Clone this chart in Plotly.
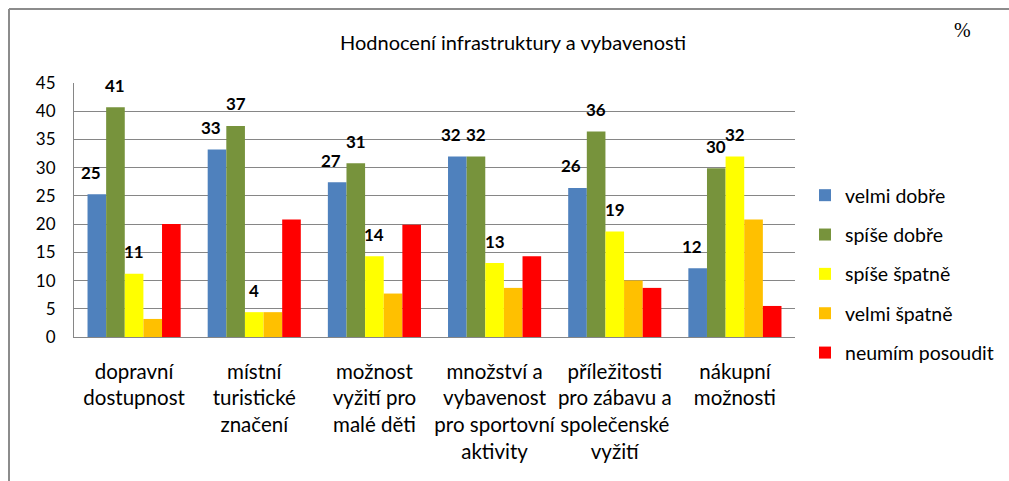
import plotly.graph_objects as go

categories = [
    "dopravní<br>dostupnost",
    "místní<br>turistické<br>značení",
    "možnost<br>vyžití pro<br>malé děti",
    "množství a<br>vybavenost<br>pro sportovní<br>aktivity",
    "příležitosti<br>pro zábavu a<br>společenské<br>vyžití",
    "nákupní<br>možnosti",
]
series_names = ["velmi dobře", "spíše dobře", "spíše špatně", "velmi špatně", "neumím posoudit"]
velmi_dobre = [25.3, 33.2, 27.4, 32.0, 26.4, 12.2]
spise_dobre = [40.7, 37.4, 30.8, 32.0, 36.4, 29.9]
spise_spatne = [11.2, 4.4, 14.3, 13.1, 18.7, 32.0]
velmi_spatne = [3.2, 4.4, 7.7, 8.7, 10.0, 20.8]
neumim = [20.0, 20.8, 19.9, 14.3, 8.7, 5.5]
series_values = [velmi_dobre, spise_dobre, spise_spatne, velmi_spatne, neumim]
labelled_series = [0, 1, 2]  # only these series carry data labels
colors = ["#4F81BD", "#77933C", "#FFFF00", "#FFC000", "#FF0000"]
y_ticks = [0, 5, 10, 15, 20, 25, 30, 35, 40, 45]

W, H = 1009, 481
ML, MR, MT, MB = 74, 214, 83, 144
plot_w = W - ML - MR
plot_h = H - MT - MB
bargap = 0.225
bar_w = plot_w / len(categories) * (1 - bargap) / len(series_names)
label_xshift = [-6, 0, 0, 0, 0]

FONT = "Lato"

fig = go.Figure()
for i, (name, vals) in enumerate(zip(series_names, series_values)):
    fig.add_trace(go.Bar(
        x=categories, y=vals, name=name,
        marker=dict(color=colors[i], line=dict(width=0)),
        legendgroup=name,
        hoverinfo="skip",
    ))

annotations = []
for i in labelled_series:
    for c, v in zip(categories, series_values[i]):
        annotations.append(dict(
            x=c, y=v, xref="x", yref="y", text=f"<b>{round(v)}</b>",
            showarrow=False, xanchor="center", yanchor="middle",
            xshift=(i - 2) * bar_w + label_xshift[i], yshift=22,
            font=dict(family=FONT, size=17, color="#000000"),
        ))

annotations.append(dict(
    x=(963 - ML) / plot_w, y=(H - MB - 30) / plot_h, xref="paper", yref="paper",
    text="%", showarrow=False, xanchor="center", yanchor="middle",
    font=dict(family="Liberation Serif", size=20, color="#000000"),
))

shapes = [
    dict(type="line", xref="paper", yref="paper",
         x0=(9 - ML) / plot_w, x1=(W - ML) / plot_w,
         y0=(H - MB - 9) / plot_h, y1=(H - MB - 9) / plot_h,
         line=dict(color="#8c8c8c", width=2)),
    dict(type="line", xref="paper", yref="paper",
         x0=(9 - ML) / plot_w, x1=(9 - ML) / plot_w,
         y0=(H - MB - 9) / plot_h, y1=(H - MB - H) / plot_h,
         line=dict(color="#8c8c8c", width=2)),
]

fig.update_layout(
    width=W, height=H,
    margin=dict(l=ML, r=MR, t=MT, b=MB, pad=0, autoexpand=False),
    paper_bgcolor="white", plot_bgcolor="white",
    barmode="group", bargap=bargap, bargroupgap=0,
    title=dict(text="Hodnocení infrastruktury a vybavenosti",
               x=(513) / W, xanchor="center", y=1 - 43 / H, yanchor="middle",
               font=dict(family=FONT, size=20, color="#000000")),
    xaxis=dict(showline=True, linecolor="#868686", linewidth=1,
               ticks="", showgrid=False, tickangle=0, automargin=False,
               tickfont=dict(family=FONT, size=20.5, color="#000000"),
               ticklabelstandoff=16),
    yaxis=dict(range=[0, 45], tickvals=y_ticks, showline=True, linecolor="#868686",
               linewidth=1, showgrid=True, gridcolor="#868686", gridwidth=1,
               zeroline=False, ticks="", automargin=False,
               tickfont=dict(family=FONT, size=17, color="#000000"),
               ticklabelstandoff=14),
    legend=dict(x=(805 - ML) / plot_w, xanchor="left", y=(H - MB - 176) / plot_h, yanchor="top",
                font=dict(family=FONT, size=19.5, color="#000000"),
                tracegroupgap=11, traceorder="grouped", itemwidth=30),
    annotations=annotations,
    shapes=shapes,
    showlegend=True,
)

fig.write_html("out.html", config={"displayModeBar": False},
               post_script="document.body.style.margin='0px';")
